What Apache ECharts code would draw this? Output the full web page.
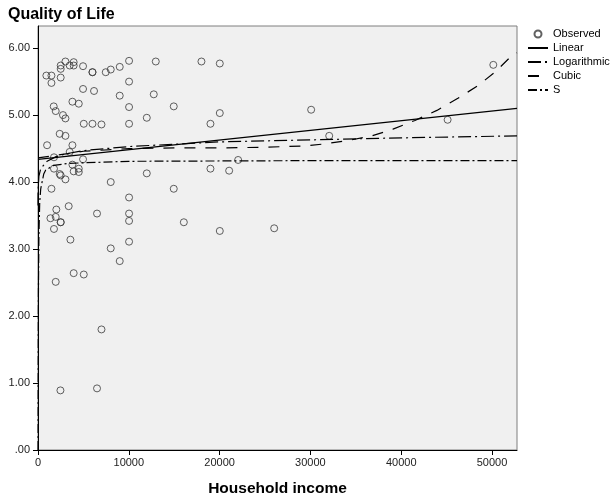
<!DOCTYPE html>
<html>
<head>
<meta charset="utf-8">
<script src="https://cdn.jsdelivr.net/npm/echarts@6/dist/echarts.min.js"></script>
<style>
html,body{margin:0;padding:0;background:#fff;}
#chart{width:613px;height:499px;}
</style>
</head>
<body>
<div id="chart"></div>
<script>
// Observed data (household income, quality of life)
var incomeObserved = [920,1480,1480,2500,2500,2500,3020,3490,3930,3930,4960,6000,6000,7460,8010,9000,10030,12970,18000,20020,
  10030,4960,6170,9000,12750,3790,4490,1730,1950,2750,3020,10030,14950,20020,5040,6000,6990,10030,11980,18990,
  1000,2390,3020,3790,3490,1760,4960,3790,1760,2390,2500,3020,3930,4490,4490,11980,18990,21050,22040,1480,
  8010,14950,10030,2020,1370,1950,2500,2500,1760,3380,6500,10030,10030,10030,16060,20020,26010,3570,8010,9000,
  3930,5040,1950,6990,2470,6500,30080,50140,45110,32070];
var qualityObserved = [5.59,5.59,5.48,5.56,5.69,5.74,5.80,5.74,5.79,5.74,5.73,5.64,5.64,5.64,5.68,5.72,5.81,5.80,5.80,5.77,
  5.50,5.39,5.36,5.29,5.31,5.20,5.17,5.13,5.06,5.00,4.95,5.12,5.13,5.03,4.87,4.87,4.86,4.87,4.96,4.87,
  4.55,4.72,4.69,4.55,4.45,4.37,4.34,4.26,4.20,4.12,4.10,4.04,4.16,4.20,4.15,4.13,4.20,4.17,4.33,3.90,
  4.00,3.90,3.77,3.59,3.46,3.48,3.40,3.40,3.30,3.64,3.53,3.53,3.42,3.11,3.40,3.27,3.31,3.14,3.01,2.82,
  2.64,2.62,2.51,1.80,0.89,0.92,5.08,5.75,4.93,4.69];

// Fitted curves
var linearX = [0, 52750];
var linearY = [4.34, 5.10];
var logX = [1, 10, 100, 300, 1000, 2000, 3000, 5000, 10000, 20000, 30000, 40000, 52750];
var logY = [3.65, 3.87, 4.09, 4.20, 4.31, 4.38, 4.42, 4.47, 4.53, 4.60, 4.63, 4.66, 4.69];
var cubicX = [0, 5000, 10000, 15000, 20000, 25000, 29390, 31590, 34130, 36770, 39090, 41510, 43930, 46240, 48450, 50320, 52190, 52750];
var cubicY = [4.36, 4.46, 4.50, 4.51, 4.51, 4.52, 4.54, 4.57, 4.62, 4.69, 4.79, 4.92, 5.07, 5.25, 5.44, 5.64, 5.89, 5.93];
var sX = [3, 10, 20, 30, 50, 100, 190, 300, 630, 850, 1730, 3400, 10000, 30000, 52750];
var sY = [0.0, 0.2, 0.95, 1.6, 2.4, 3.2, 3.7, 3.9, 4.12, 4.18, 4.25, 4.28, 4.31, 4.32, 4.32];

var yTicks = [0, 1, 2, 3, 4, 5, 6];
var xTicks = [0, 10000, 20000, 30000, 40000, 50000];
var legendNames = ['Observed', 'Linear', 'Logarithmic', 'Cubic', 'S'];

function pairs(xs, ys) { return xs.map(function (x, i) { return [x, ys[i]]; }); }

var FONT = 'Arial, "Liberation Sans", sans-serif';
var chart = echarts.init(document.getElementById('chart'), null, {renderer: 'canvas'});

function lineSeries(name, xs, ys, dash, width) {
  return {
    name: name, type: 'line', data: pairs(xs, ys), symbol: 'none', showSymbol: false,
    smooth: false, silent: true, z: 3,
    itemStyle: {color: '#000'},
    lineStyle: {color: '#000', width: width, type: dash}
  };
}

var legendData = legendNames.map(function (n, i) {
  return i === 0 ? {name: n} : {name: n, itemStyle: {opacity: 0}};
});

chart.setOption({
  animation: false,
  backgroundColor: '#fff',
  title: {
    text: 'Quality of Life', left: 3, top: 2,
    textStyle: {fontFamily: FONT, fontSize: 16, fontWeight: 'bold', color: '#000'}
  },
  legend: {
    data: legendData, orient: 'vertical', left: 522, top: 23,
    itemWidth: 20, itemHeight: 7, itemGap: 2,
    textStyle: {fontFamily: FONT, fontSize: 11, color: '#000', lineHeight: 12},
    selectedMode: false
  },
  grid: {
    left: 38, right: 96, top: 26, bottom: 49,
    containLabel: false, outerBoundsMode: 'none',
    show: true, backgroundColor: '#f0f0f0', borderColor: '#7f7f7f', borderWidth: 1
  },
  xAxis: {
    type: 'value', min: 0, max: 52750, interval: 10000,
    name: 'Household income', nameLocation: 'middle', nameGap: 31,
    nameTextStyle: {fontFamily: FONT, fontSize: 15.5, fontWeight: 'bold', color: '#000'},
    axisLine: {show: true, lineStyle: {color: '#000', width: 1}},
    axisTick: {show: true, length: 5, lineStyle: {color: '#000'}, customValues: xTicks},
    axisLabel: {
      fontFamily: FONT, fontSize: 11, color: '#222', margin: 7, customValues: xTicks,
      formatter: function (v) { return String(v); }
    },
    splitLine: {show: false}
  },
  yAxis: {
    type: 'value', min: 0, max: 6.33, interval: 1,
    axisLine: {show: true, lineStyle: {color: '#000', width: 1}},
    axisTick: {show: true, length: 5, lineStyle: {color: '#000'}, customValues: yTicks},
    axisLabel: {
      fontFamily: FONT, fontSize: 11, color: '#222', margin: 8, customValues: yTicks,
      formatter: function (v) { return v === 0 ? '.00' : v.toFixed(2); }
    },
    splitLine: {show: false}
  },
  series: [
    {
      name: 'Observed', type: 'scatter', data: pairs(incomeObserved, qualityObserved),
      symbol: 'circle', symbolSize: 7, z: 2,
      itemStyle: {color: 'rgba(0,0,0,0)', borderColor: '#3a3a3a', borderWidth: 1}
    },
    lineSeries('Linear', linearX, linearY, 'solid', 1.3),
    lineSeries('Logarithmic', logX, logY, [13, 4, 2, 4], 1.2),
    lineSeries('Cubic', cubicX, cubicY, [11, 10], 1.2),
    lineSeries('S', sX, sY, [9, 3, 2, 3], 1.2)
  ]
});
</script>
</body>
</html>
